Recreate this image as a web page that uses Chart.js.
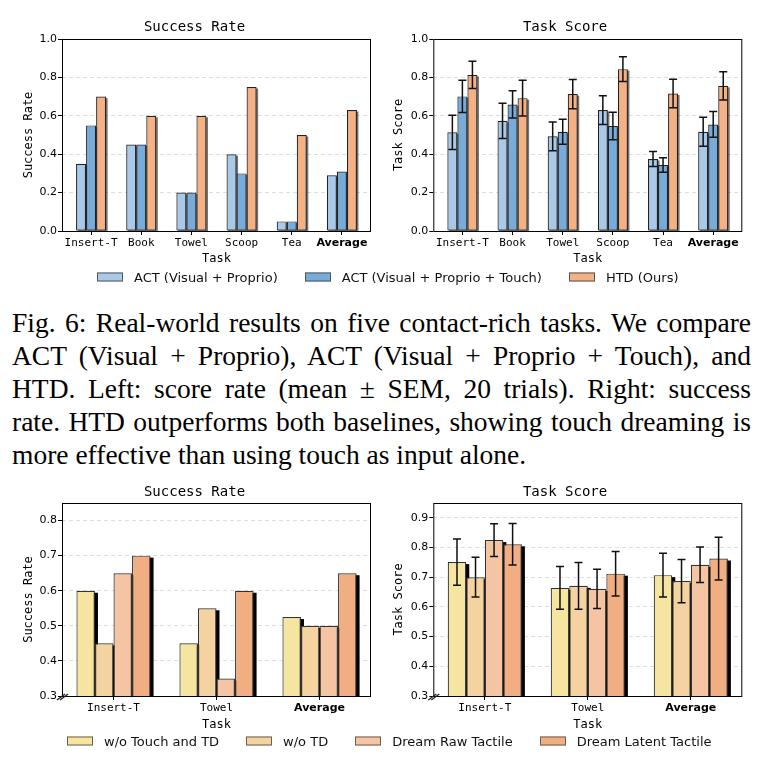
<!DOCTYPE html>
<html>
<head>
<meta charset="utf-8">
<script src="https://cdn.jsdelivr.net/npm/chart.js@4.4.1/dist/chart.umd.min.js"></script>
<style>
  body { margin: 0; width: 766px; height: 770px; background: #fff; position: relative; overflow: hidden; }
  canvas { position: absolute; }
  .legend { position: absolute; display: flex; align-items: center; transform: translateY(-50%);
    font: 13px "DejaVu Sans", sans-serif; color: #111; white-space: nowrap; }
  .legend .item { display: flex; align-items: center; margin-right: 27px; }
  .legend .sw { width: 26px; height: 9px; box-sizing: border-box; border: 1px solid #555; margin-right: 11px; }
  .caption { position: absolute; left: 12px; top: 306px; width: 739px;
    font: 27.5px "Liberation Serif", "Times New Roman", serif; color: #000; }
  .caption div { height: 33px; line-height: 33px; text-align: justify; text-align-last: justify; }
  .caption div.last { text-align-last: left; }
</style>
</head>
<body>
<canvas id="topSuccess" width="383" height="270" style="left:0;top:0"></canvas>
<canvas id="topScore" width="383" height="270" style="left:383px;top:0"></canvas>
<div class="legend" id="topLegend" style="left:97px;top:277px"></div>

<div class="caption">
  <div>Fig. 6: Real-world results on five contact-rich tasks. We compare</div>
  <div>ACT (Visual + Proprio), ACT (Visual + Proprio + Touch), and</div>
  <div>HTD. Left: score rate (mean ± SEM, 20 trials). Right: success</div>
  <div>rate. HTD outperforms both baselines, showing touch dreaming is</div>
  <div class="last">more effective than using touch as input alone.</div>
</div>

<canvas id="ablSuccess" width="383" height="266" style="left:0;top:470px"></canvas>
<canvas id="ablScore" width="383" height="266" style="left:383px;top:470px"></canvas>
<div class="legend" id="ablLegend" style="left:67px;top:741px"></div>

<script>
// --- data: real-world tasks (top row) ---
const topTasks = ["Insert-T", "Book", "Towel", "Scoop", "Tea", "Average"];
const topSeries = ["ACT (Visual + Proprio)", "ACT (Visual + Proprio + Touch)", "HTD (Ours)"];

const successActVP = [0.35, 0.45, 0.20, 0.40, 0.05, 0.29];
const successActVPT = [0.55, 0.45, 0.20, 0.30, 0.05, 0.31];
const successHtd = [0.70, 0.60, 0.60, 0.75, 0.50, 0.63];

const scoreActVP = [0.514, 0.574, 0.493, 0.630, 0.375, 0.517];
const semActVP = [0.089, 0.092, 0.075, 0.075, 0.039, 0.075];
const scoreActVPT = [0.701, 0.659, 0.517, 0.547, 0.344, 0.555];
const semActVPT = [0.084, 0.071, 0.065, 0.072, 0.038, 0.067];
const scoreHtd = [0.813, 0.692, 0.713, 0.843, 0.716, 0.756];
const semHtd = [0.071, 0.093, 0.076, 0.064, 0.074, 0.074];

const topTicks = [0.0, 0.2, 0.4, 0.6, 0.8, 1.0];

// --- data: ablation (bottom row) ---
const ablTasks = ["Insert-T", "Towel", "Average"];
const ablSeries = ["w/o Touch and TD", "w/o TD", "Dream Raw Tactile", "Dream Latent Tactile"];

const successNoTouch = [0.60, 0.45, 0.525];
const successNoTd = [0.45, 0.55, 0.50];
const successRaw = [0.65, 0.35, 0.50];
const successLatent = [0.70, 0.60, 0.65];

const scoreNoTouch = [0.751, 0.664, 0.707];
const semNoTouch = [0.078, 0.072, 0.074];
const scoreNoTd = [0.700, 0.671, 0.687];
const semNoTd = [0.067, 0.079, 0.073];
const scoreRaw = [0.825, 0.661, 0.742];
const semRaw = [0.055, 0.066, 0.060];
const scoreLatent = [0.811, 0.712, 0.763];
const semLatent = [0.070, 0.075, 0.072];

const ablSuccessTicks = [0.3, 0.4, 0.5, 0.6, 0.7, 0.8];
const ablScoreTicks = [0.3, 0.4, 0.5, 0.6, 0.7, 0.8, 0.9];

// --- styling ---
const topColors = ["#a9c9e8", "#77acda", "#f4b183"];
const ablColors = ["#f5e5a0", "#f4d3a0", "#f5c4a2", "#f2ae83"];
const MONO = "DejaVu Sans Mono";
const SANS = "DejaVu Sans";

// black drop shadow behind each bar (drawn before the bars themselves)
const barShadow = {
  id: "barShadow",
  beforeDatasetsDraw(chart, args, opts) {
    const { ctx, chartArea: a } = chart;
    ctx.save();
    ctx.beginPath();
    ctx.rect(a.left, a.top, a.right - a.left, a.bottom - a.top);
    ctx.clip();
    ctx.fillStyle = opts.color;
    chart.data.datasets.forEach((ds, i) => {
      chart.getDatasetMeta(i).data.forEach((bar) => {
        const { x, y, base, width } = bar.getProps(["x", "y", "base", "width"], true);
        ctx.fillRect(x - width / 2 + opts.dx, y + opts.dy, width, base - y);
      });
    });
    ctx.restore();
  },
};

// matplotlib style box around the plot, plus the "//" axis break mark
const frame = {
  id: "frame",
  afterDatasetsDraw(chart, args, opts) {
    const { ctx, chartArea: a } = chart;
    ctx.save();
    ctx.strokeStyle = "#000";
    ctx.lineWidth = 1;
    ctx.strokeRect(a.left + 0.5, a.top + 0.5, a.right - a.left - 1, a.bottom - a.top);
    if (opts.axisBreak) {
      ctx.lineWidth = 1.3;
      ctx.strokeStyle = "#222";
      [0, 3].forEach((k) => {
        ctx.beginPath();
        ctx.moveTo(a.left - 5 + k, a.bottom + 4);
        ctx.lineTo(a.left + 3 + k, a.bottom - 2);
        ctx.stroke();
      });
    }
    ctx.restore();
  },
};

// mean ± SEM whiskers
const errorBars = {
  id: "errorBars",
  afterDatasetsDraw(chart) {
    const { ctx } = chart;
    const yScale = chart.scales.y;
    ctx.save();
    ctx.strokeStyle = "#111";
    ctx.lineWidth = 1.5;
    chart.data.datasets.forEach((ds, i) => {
      if (!ds.sem) return;
      chart.getDatasetMeta(i).data.forEach((bar, j) => {
        const mean = ds.data[j].y;
        const hi = yScale.getPixelForValue(mean + ds.sem[j]);
        const lo = yScale.getPixelForValue(mean - ds.sem[j]);
        ctx.beginPath();
        ctx.moveTo(bar.x, hi);
        ctx.lineTo(bar.x, lo);
        ctx.moveTo(bar.x - 4, hi);
        ctx.lineTo(bar.x + 4, hi);
        ctx.moveTo(bar.x - 4, lo);
        ctx.lineTo(bar.x + 4, lo);
        ctx.stroke();
      });
    });
    ctx.restore();
  },
};

function makeChart(id, cfg) {
  const lastIdx = cfg.labels.length - 1;
  return new Chart(document.getElementById(id), {
    type: "bar",
    data: {
      datasets: cfg.series.map((s) => ({
        label: s.label,
        data: s.values.map((v, i) => ({ x: i, y: v })),
        sem: s.sem,
        backgroundColor: s.color,
        borderColor: cfg.edge,
        borderWidth: 1.2,
        borderSkipped: false,
        categoryPercentage: cfg.groupWidth,
        barPercentage: 1,
      })),
    },
    options: {
      responsive: false,
      animation: false,
      devicePixelRatio: 1,
      layout: { padding: { left: cfg.padLeft, right: cfg.padRight, top: 0, bottom: 0 } },
      plugins: {
        legend: { display: false },
        tooltip: { enabled: false },
        title: {
          display: true,
          text: cfg.title,
          color: "#000",
          font: { family: MONO, size: 14, weight: "normal" },
          padding: { top: cfg.titleTop, bottom: cfg.titleBottom },
        },
        barShadow: cfg.shadow,
        frame: { axisBreak: cfg.axisBreak },
      },
      scales: {
        x: {
          type: "linear",
          min: cfg.xMin,
          max: cfg.xMax,
          offset: false,
          afterBuildTicks: (s) => {
            s.ticks = cfg.labels.map((_, i) => ({ value: i }));
          },
          afterFit: (s) => {
            s.height = cfg.xHeight;
          },
          ticks: {
            callback: (v, i) => cfg.labels[i],
            autoSkip: false,
            maxRotation: 0,
            padding: 2,
            color: "#000",
            font: (c) =>
              c.index === lastIdx
                ? { family: SANS, size: 11, weight: "bold" }
                : { family: MONO, size: 11 },
          },
          grid: { drawOnChartArea: false, offset: false, tickLength: 4, tickColor: "#000", tickWidth: 1 },
          border: { display: false },
          title: { display: true, text: "Task", color: "#000", font: { family: MONO, size: 12 }, padding: 4 },
        },
        y: {
          min: cfg.yMin,
          max: cfg.yMax,
          afterBuildTicks: (s) => {
            s.ticks = cfg.yTicks.map((v) => ({ value: v }));
          },
          afterFit: (s) => {
            s.width = cfg.yWidth;
          },
          ticks: { callback: (v) => v.toFixed(1), padding: 1, color: "#000", font: { family: SANS, size: 11 } },
          grid: { color: "#d6d6d6", lineWidth: 0.8, tickLength: 4, tickColor: "#000", tickWidth: 1 },
          border: { display: false, dash: [4, 3] },
          title: { display: true, text: cfg.yTitle, color: "#000", font: { family: MONO, size: 12 }, padding: 4 },
        },
      },
    },
    plugins: [barShadow, frame, errorBars],
  });
}

const topShadow = { dx: 1.5, dy: 1.5, color: "rgba(0,0,0,0.55)" };
const ablShadow = { dx: 3, dy: 2, color: "#000" };

const topCommon = {
  labels: topTasks, xMin: -0.58, xMax: 5.58, groupWidth: 0.6,
  yMin: 0, yMax: 1, yTicks: topTicks, edge: "#222",
  titleTop: 18.6, titleBottom: 3.6, xHeight: 39, shadow: topShadow, axisBreak: false,
};

makeChart("topSuccess", {
  ...topCommon, title: "Success Rate", yTitle: "Success Rate",
  padLeft: 18, yWidth: 44, padRight: 12,
  series: [
    { label: topSeries[0], values: successActVP, color: topColors[0] },
    { label: topSeries[1], values: successActVPT, color: topColors[1] },
    { label: topSeries[2], values: successHtd, color: topColors[2] },
  ],
});

makeChart("topScore", {
  ...topCommon, title: "Task Score", yTitle: "Task Score",
  padLeft: 4.8, yWidth: 45.5, padRight: 23.7,
  series: [
    { label: topSeries[0], values: scoreActVP, sem: semActVP, color: topColors[0] },
    { label: topSeries[1], values: scoreActVPT, sem: semActVPT, color: topColors[1] },
    { label: topSeries[2], values: scoreHtd, sem: semHtd, color: topColors[2] },
  ],
});

const ablCommon = {
  labels: ablTasks, xMin: -0.5, xMax: 2.5, groupWidth: 0.72, edge: "#333",
  titleTop: 13.6, titleBottom: 2.6, xHeight: 40, shadow: ablShadow, axisBreak: true,
};

makeChart("ablSuccess", {
  ...ablCommon, title: "Success Rate", yTitle: "Success Rate",
  yMin: 0.3, yMax: 0.85, yTicks: ablSuccessTicks,
  padLeft: 18, yWidth: 44, padRight: 12,
  series: [
    { label: ablSeries[0], values: successNoTouch, color: ablColors[0] },
    { label: ablSeries[1], values: successNoTd, color: ablColors[1] },
    { label: ablSeries[2], values: successRaw, color: ablColors[2] },
    { label: ablSeries[3], values: successLatent, color: ablColors[3] },
  ],
});

makeChart("ablScore", {
  ...ablCommon, title: "Task Score", yTitle: "Task Score",
  yMin: 0.3, yMax: 0.95, yTicks: ablScoreTicks,
  padLeft: 4.8, yWidth: 45.5, padRight: 23.7,
  series: [
    { label: ablSeries[0], values: scoreNoTouch, sem: semNoTouch, color: ablColors[0] },
    { label: ablSeries[1], values: scoreNoTd, sem: semNoTd, color: ablColors[1] },
    { label: ablSeries[2], values: scoreRaw, sem: semRaw, color: ablColors[2] },
    { label: ablSeries[3], values: scoreLatent, sem: semLatent, color: ablColors[3] },
  ],
});

// shared legends under each row
function buildLegend(el, names, colors, edge) {
  names.forEach((name, i) => {
    const item = document.createElement("div");
    item.className = "item";
    item.innerHTML = `<span class="sw" style="background:${colors[i]};border-color:${edge}"></span><span>${name}</span>`;
    el.appendChild(item);
  });
}
buildLegend(document.getElementById("topLegend"), topSeries, topColors, "#555");
buildLegend(document.getElementById("ablLegend"), ablSeries, ablColors, "#6b5e50");
</script>
</body>
</html>
